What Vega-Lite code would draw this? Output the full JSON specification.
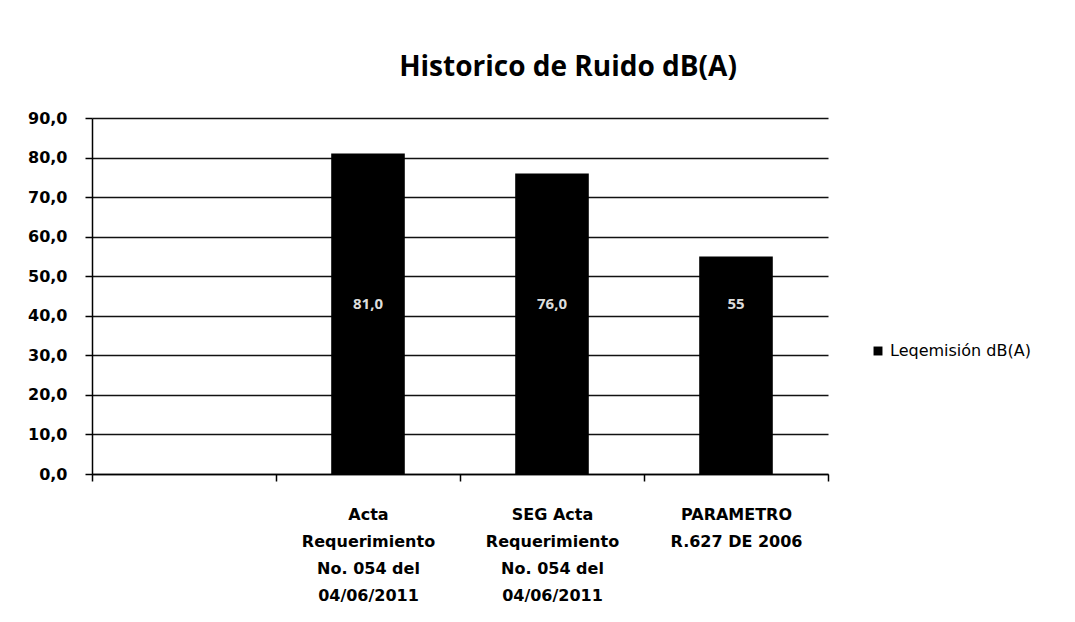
{
  "$schema": "https://vega.github.io/schema/vega-lite/v6.json",
  "width": 736,
  "height": 356,
  "autosize": {"type": "none"},
  "padding": {"left": 92, "top": 118, "right": 247, "bottom": 148},
  "background": "white",
  "config": {"view": {"stroke": null}},
  "title": {
    "text": "Historico de Ruido dB(A)",
    "anchor": "middle",
    "frame": "group",
    "dx": 108,
    "offset": 28,
    "font": "Open Sans",
    "fontSize": 28,
    "fontWeight": "bold",
    "color": "#000"
  },
  "data": {
    "values": [
      {"categoria": " ", "serie": "Leqemisión dB(A)", "valor": null, "etiqueta": ""},
      {"categoria": "Acta|Requerimiento|No. 054 del|04/06/2011", "serie": "Leqemisión dB(A)", "valor": 81.0, "etiqueta": "81,0"},
      {"categoria": "SEG Acta|Requerimiento|No. 054 del|04/06/2011", "serie": "Leqemisión dB(A)", "valor": 76.0, "etiqueta": "76,0"},
      {"categoria": "PARAMETRO|R.627 DE 2006", "serie": "Leqemisión dB(A)", "valor": 55.0, "etiqueta": "55"}
    ]
  },
  "encoding": {
    "x": {
      "field": "categoria",
      "type": "nominal",
      "sort": null,
      "scale": {
        "domain": [" ", "Acta|Requerimiento|No. 054 del|04/06/2011", "SEG Acta|Requerimiento|No. 054 del|04/06/2011", "PARAMETRO|R.627 DE 2006"],
        "paddingInner": 0,
        "paddingOuter": 0
      },
      "axis": {
        "title": null,
        "labelAngle": 0,
        "labelExpr": "split(datum.label, '|')",
        "labelFont": "DejaVu Sans",
        "labelFontSize": 16,
        "labelFontWeight": "bold",
        "labelColor": "#000",
        "labelLineHeight": 27,
        "labelPadding": 25,
        "tickBand": "extent",
        "tickSize": 7,
        "tickColor": "#000",
        "tickWidth": 1.5,
        "domainColor": "#000",
        "domainWidth": 1.5,
        "grid": false
      }
    },
    "y": {
      "field": "valor",
      "type": "quantitative",
      "scale": {"domain": [0, 90], "nice": false},
      "axis": {
        "title": null,
        "values": [0, 10, 20, 30, 40, 50, 60, 70, 80, 90],
        "labelOverlap": false,
        "labelExpr": "replace(format(datum.value, '.1f'), '.', ',')",
        "labelFont": "DejaVu Sans",
        "labelFontSize": 16,
        "labelFontWeight": "bold",
        "labelColor": "#000",
        "labelPadding": 18,
        "tickSize": 7,
        "tickColor": "#000",
        "tickWidth": 1.5,
        "domainColor": "#000",
        "domainWidth": 1.5,
        "grid": true,
        "gridColor": "#111",
        "gridWidth": 1.5
      }
    }
  },
  "layer": [
    {
      "mark": {"type": "bar", "color": "#000", "width": {"band": 0.4}},
      "encoding": {
        "color": {
          "field": "serie",
          "type": "nominal",
          "scale": {"range": ["#000"]},
          "legend": {
            "title": null,
            "orient": "none",
            "legendX": 778,
            "legendY": 225,
            "symbolType": "square",
            "symbolSize": 80,
            "labelFont": "DejaVu Sans",
            "labelFontSize": 16,
            "labelColor": "#000",
            "labelOffset": 4
          }
        }
      }
    },
    {
      "transform": [{"filter": "datum.valor != null"}],
      "mark": {"type": "text", "color": "#ddd", "font": "Open Sans", "fontSize": 15, "fontWeight": "bold", "y": {"expr": "scale('y', 43)"}},
      "encoding": {
        "y": null,
        "text": {"field": "etiqueta"}
      }
    }
  ]
}
